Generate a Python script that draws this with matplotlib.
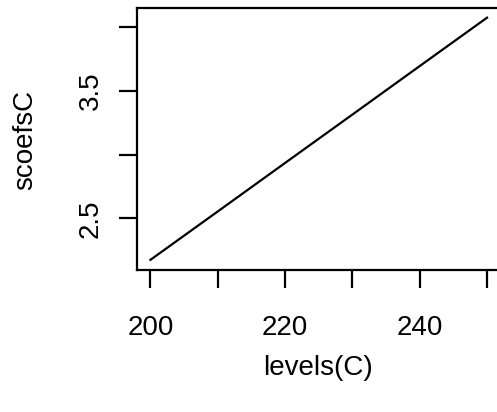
import matplotlib
matplotlib.use("Agg")
import matplotlib.pyplot as plt

# levels(C) vs scoefsC
levels_C = [200, 210, 220, 230, 240, 250]
scoefsC = [2.174, 2.554, 2.935, 3.315, 3.696, 4.076]

xticks = [200, 210, 220, 230, 240, 250]
xticklabels = ["200", "", "220", "", "240", ""]
yticks = [2.5, 3.0, 3.5, 4.0]
yticklabels = ["2.5", "", "3.5", ""]

plt.rcParams['font.family'] = ['Liberation Sans', 'DejaVu Sans']

W, H = 497, 412
fig = plt.figure(figsize=(W / 100, H / 100), dpi=100)
# box runs past the right edge of the picture, as in the original
left, right, top, bottom = 137, 500.5, 8, 269.5
ax = fig.add_axes([left / W, 1 - bottom / H, (right - left) / W, (bottom - top) / H])

ax.plot(levels_C, scoefsC, color="black", lw=1.6)

ax.set_xlim(198, 252)
ax.set_ylim(2.098, 4.152)
for s in ax.spines.values():
    s.set_linewidth(1.6)

ax.set_xticks(xticks)
ax.set_xticklabels(xticklabels)
ax.set_yticks(yticks)
ax.set_yticklabels(yticklabels, rotation=90, va="center")
ax.tick_params(axis="both", length=13, width=1.6, labelsize=20, direction="out")
ax.tick_params(axis="x", pad=20)
ax.tick_params(axis="y", pad=11)

fig.text(318 / W, 1 - 368 / H, "levels(C)", ha="center", va="center", fontsize=20)
fig.text(25 / W, 1 - 140 / H, "scoefsC", ha="center", va="center", rotation=90, fontsize=20)

fig.savefig("out.png", dpi=100)
